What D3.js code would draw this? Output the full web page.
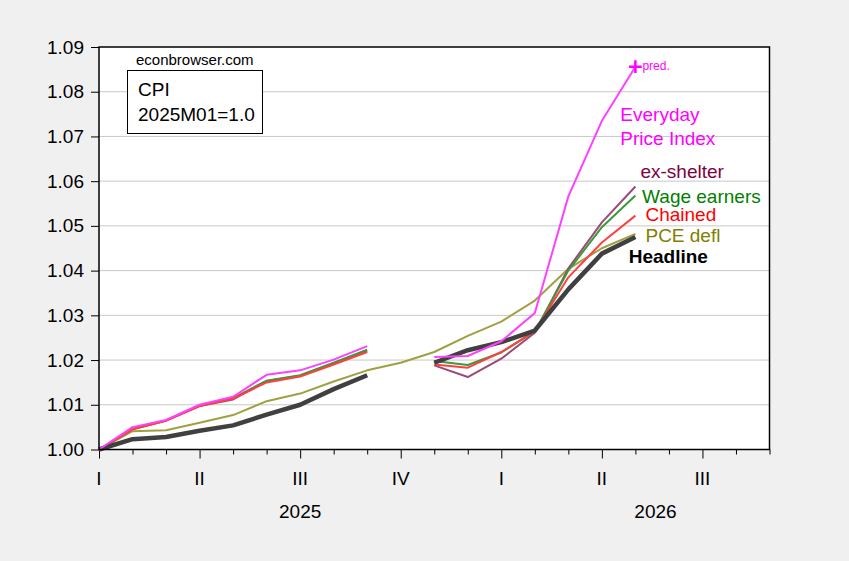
<!DOCTYPE html>
<html>
<head>
<meta charset="utf-8">
<script src="https://cdn.jsdelivr.net/npm/d3@7/dist/d3.min.js"></script>
<style>
  html, body { margin: 0; padding: 0; background: #f0f0f0; }
  svg { display: block; font-family: Arial, 'Liberation Sans', sans-serif; }
</style>
</head>
<body>
<div id="chart"></div>
<script>
// months Jan 2025 .. May 2026 (Oct 2025 CPI not published)
const months = ['2025M01', '2025M02', '2025M03', '2025M04', '2025M05', '2025M06', '2025M07', '2025M08', '2025M09',
  '2025M10', '2025M11', '2025M12', '2026M01', '2026M02', '2026M03', '2026M04', '2026M05']

const headline = [1.0000, 1.0023, 1.0028, 1.0042, 1.0054, 1.0078, 1.0100, 1.0135, 1.0166, null,
  1.0194, 1.0222, 1.0240, 1.0266, 1.0358, 1.0438, 1.0475]
const pceDefl = [1.0000, 1.0041, 1.0043, 1.0060, 1.0077, 1.0108, 1.0125, 1.0152, 1.0177, 1.0194,
  1.0218, 1.0254, 1.0286, 1.0333, 1.0404, 1.0450, 1.0482]
const everyday = [1.0000, 1.0050, 1.0066, 1.0100, 1.0118, 1.0167, 1.0177, 1.0201, 1.0231, null,
  1.0207, 1.0209, 1.0242, 1.0305, 1.0566, 1.0735, 1.0856]
const exShelter = [1.0000, 1.0046, 1.0065, 1.0097, 1.0112, 1.0153, 1.0165, 1.0192, 1.0220, null,
  1.0188, 1.0162, 1.0203, 1.0261, 1.0405, 1.0508, 1.0588]
const wageEarners = [1.0000, 1.0045, 1.0065, 1.0098, 1.0115, 1.0154, 1.0166, 1.0194, 1.0223, null,
  1.0198, 1.0189, 1.0217, 1.0264, 1.0400, 1.0497, 1.0568]
const chained = [1.0000, 1.0045, 1.0064, 1.0097, 1.0114, 1.0150, 1.0163, 1.0190, 1.0218, null,
  1.0190, 1.0183, 1.0218, 1.0264, 1.0385, 1.0463, 1.0523]

const yTicks = [1.00, 1.01, 1.02, 1.03, 1.04, 1.05, 1.06, 1.07, 1.08, 1.09]
const quarterLabels = ['I', 'II', 'III', 'IV', 'I', 'II', 'III']
const yearLabels = ['2025', '2026']
const nMonths = 20 // axis runs Jan 2025 .. Sep 2026

const W = 849
const H = 561
const FONT = 19
const plot = { left: 99, right: 769.5, top: 47, bottom: 449.5 }

const x = d3.scaleLinear().domain([0, nMonths]).range([plot.left, plot.right])
const y = d3.scaleLinear().domain([1.0, 1.09]).range([plot.bottom, plot.top])

const svg = d3.select('#chart').append('svg')
  .attr('width', W)
  .attr('height', H)

svg.append('rect')
  .attr('x', plot.left).attr('y', plot.top)
  .attr('width', plot.right - plot.left).attr('height', plot.bottom - plot.top)
  .attr('fill', '#fff')

// grid
svg.append('g')
  .selectAll('line')
  .data(yTicks.slice(1, -1))
  .join('line')
  .attr('x1', plot.left).attr('x2', plot.right)
  .attr('y1', d => y(d)).attr('y2', d => y(d))
  .attr('stroke', '#c8c8c8')
  .attr('stroke-width', 1)

// y axis
const yAxis = d3.axisLeft(y).tickValues(yTicks).tickFormat(d3.format('.2f')).tickSize(8).tickSizeOuter(0)
svg.append('g')
  .attr('transform', `translate(${plot.left},0)`)
  .call(yAxis)
  .call(g => g.select('.domain').remove())
  .call(g => g.selectAll('text').attr('font-size', FONT).attr('fill', '#000').attr('x', -15)
    .style('font-family', 'Arial, Liberation Sans, sans-serif'))

// x axis: short month ticks, long quarter ticks
const xAxis = d3.axisBottom(x).tickValues(d3.range(0, nMonths + 1)).tickFormat('').tickSizeOuter(0)
  .tickSize(5)
svg.append('g')
  .attr('transform', `translate(0,${plot.bottom})`)
  .call(xAxis)
  .call(g => g.select('.domain').remove())
  .call(g => g.selectAll('.tick line').attr('y2', d => d % 3 === 0 ? 9 : 5))

svg.append('g')
  .selectAll('text')
  .data(quarterLabels)
  .join('text')
  .attr('x', (d, i) => x(i * 3))
  .attr('y', 485)
  .attr('text-anchor', 'middle')
  .attr('font-size', FONT)
  .text(d => d)

// year labels: 2025 centred on its year, 2026 on its visible stretch
const yearCenters = [x(6), x(16.6)]
svg.append('g')
  .selectAll('text')
  .data(yearLabels)
  .join('text')
  .attr('x', (d, i) => yearCenters[i])
  .attr('y', 518)
  .attr('text-anchor', 'middle')
  .attr('font-size', FONT)
  .text(d => d)

// series
const line = d3.line()
  .defined(d => d != null)
  .x((d, i) => x(i))
  .y(d => y(d))

const series = [
  { values: pceDefl, color: '#a0a040', width: 2 },
  { values: exShelter, color: '#9a4a78', width: 2 },
  { values: wageEarners, color: '#3a9a3a', width: 2 },
  { values: chained, color: '#ff4040', width: 2 },
  { values: headline, color: '#404040', width: 4.5 },
  { values: everyday, color: '#ff40ff', width: 2 }
]

svg.append('g')
  .selectAll('path')
  .data(series)
  .join('path')
  .attr('fill', 'none')
  .attr('stroke', d => d.color)
  .attr('stroke-width', d => d.width)
  .attr('stroke-linejoin', 'round')
  .attr('d', d => line(d.values))

// prediction marker on last Everyday point
const last = everyday.length - 1
svg.append('path')
  .attr('transform', `translate(${x(last)},${y(everyday[last])})`)
  .attr('d', d3.symbol(d3.symbolPlus, 55)())
  .attr('fill', 'none')
  .attr('stroke', '#ff00ff')
  .attr('stroke-width', 2.5)

svg.append('text')
  .attr('x', x(last) + 7).attr('y', y(everyday[last]) + 3)
  .attr('font-size', 12).attr('fill', '#ff00ff')
  .text('pred.')

// frame
svg.append('rect')
  .attr('x', plot.left).attr('y', plot.top)
  .attr('width', plot.right - plot.left).attr('height', plot.bottom - plot.top)
  .attr('fill', 'none').attr('stroke', '#000').attr('stroke-width', 1.5)

// series labels
const labels = [
  { text: 'Everyday', at: 15.55, v: 1.0734, color: '#ff00ff' },
  { text: 'Price Index', at: 15.55, v: 1.0680, color: '#ff00ff' },
  { text: 'ex-shelter', at: 16.15, v: 1.0606, color: '#800040' },
  { text: 'Wage earners', at: 16.2, v: 1.0551, color: '#008000' },
  { text: 'Chained', at: 16.3, v: 1.0511, color: '#ff0000' },
  { text: 'PCE defl', at: 16.3, v: 1.0463, color: '#808000' },
  { text: 'Headline', at: 15.8, v: 1.0416, color: '#000', bold: true }
]
svg.append('g')
  .selectAll('text')
  .data(labels)
  .join('text')
  .attr('x', d => x(d.at))
  .attr('y', d => y(d.v))
  .attr('font-size', FONT)
  .attr('font-weight', d => d.bold ? 'bold' : 'normal')
  .attr('fill', d => d.color)
  .text(d => d.text)

// source + title box
svg.append('text')
  .attr('x', 136).attr('y', 65)
  .attr('font-size', 15)
  .text('econbrowser.com')

svg.append('rect')
  .attr('x', 127.5).attr('y', 70.5)
  .attr('width', 135).attr('height', 63)
  .attr('fill', '#fff').attr('stroke', '#000').attr('stroke-width', 1)

svg.append('text').attr('x', 138).attr('y', 96).attr('font-size', FONT).text('CPI')
svg.append('text').attr('x', 138).attr('y', 121).attr('font-size', FONT).text('2025M01=1.0')
</script>
</body>
</html>
